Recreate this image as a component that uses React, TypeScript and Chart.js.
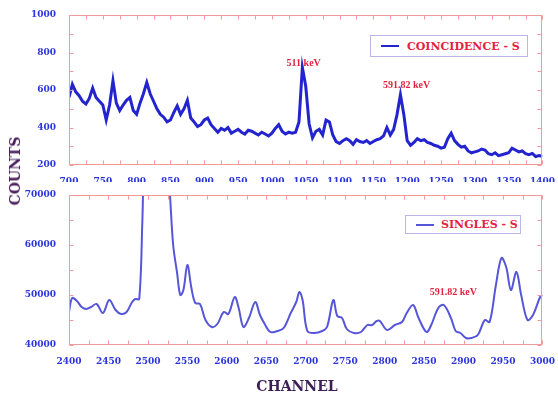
import React, { useEffect, useRef } from 'react';
import { Chart, registerables } from 'chart.js';

Chart.register(...registerables);

const SERIF = "'DejaVu Serif', 'Liberation Serif', serif";
const TIMES = "'Liberation Serif', serif";

// ---------- Top panel: COINCIDENCE - S ----------
const coincChannels = [
  700, 705, 710, 715, 720, 725, 730, 735, 740, 745, 750, 755, 760, 765, 770, 775, 780, 785, 790, 795,
  800, 805, 810, 815, 820, 825, 830, 835, 840, 845, 850, 855, 860, 865, 870, 875, 880, 885, 890, 895,
  900, 905, 910, 915, 920, 925, 930, 935, 940, 945, 950, 955, 960, 965, 970, 975, 980, 985, 990, 995,
  1000, 1005, 1010, 1015, 1020, 1025, 1030, 1035, 1040, 1045, 1050, 1055, 1060, 1065, 1070, 1075, 1080, 1085, 1090, 1095,
  1100, 1105, 1110, 1115, 1120, 1125, 1130, 1135, 1140, 1145, 1150, 1155, 1160, 1165, 1170, 1175, 1180, 1185, 1190, 1195,
  1200, 1205, 1210, 1215, 1220, 1225, 1230, 1235, 1240, 1245, 1250, 1255, 1260, 1265, 1270, 1275, 1280, 1285, 1290, 1295,
  1300, 1305, 1310, 1315, 1320, 1325, 1330, 1335, 1340, 1345, 1350, 1355, 1360, 1365, 1370, 1375, 1380, 1385, 1390, 1395,
  1400,
];
const coincCounts = [
  560, 630, 590, 570, 540, 525, 555, 610, 560, 540, 520, 440, 520, 650, 530, 490, 520, 545, 560, 490,
  470, 530, 580, 640, 580, 540, 500, 470, 455, 430, 440, 480, 515, 470, 500, 545, 450, 430, 405, 415,
  440, 450, 415, 395, 375, 395, 385, 400, 370, 380, 390, 375, 365, 385, 380, 370, 360, 375, 365, 355,
  370, 395, 415, 380, 365, 375, 370, 375, 430, 720, 620, 420, 345, 380, 390, 360, 440, 430, 360, 325,
  315, 330, 340, 330, 310, 335, 325, 320, 330, 315, 325, 335, 340, 355, 400, 360, 390, 470, 575, 470,
  330, 305, 320, 340, 330, 335, 320, 315, 305, 300, 290, 295, 340, 370, 330, 310, 295, 300, 275, 265,
  270, 275, 285, 280, 260, 255, 265, 250, 255, 260, 265, 290, 280, 270, 275, 260, 255, 262, 245, 250,
  245,
];
const coincXTicks = { min: 700, max: 1400, step: 25, labelEvery: 50 };
const coincYTicks = { min: 200, max: 1000, step: 100, labelEvery: 200 };
const coincNotes = [
  { text: '511 keV', channel: 1047, count: 744 },
  { text: '591.82 keV', channel: 1199, count: 627 },
];

// ---------- Bottom panel: SINGLES - S ----------
const singlesChannels = [
  2400, 2404, 2410, 2416, 2422, 2428, 2435, 2443, 2451, 2459, 2466, 2473, 2480, 2484, 2489, 2493, 2497, 2510, 2522, 2528,
  2532, 2537, 2541, 2545, 2550, 2555, 2560, 2566, 2573, 2581, 2588, 2596, 2602, 2610, 2615, 2621, 2628, 2636, 2642, 2648,
  2655, 2664, 2672, 2681, 2688, 2692, 2696, 2702, 2711, 2721, 2727, 2735, 2740, 2746, 2752, 2761, 2770, 2778, 2784, 2790,
  2794, 2803, 2813, 2822, 2828, 2836, 2843, 2853, 2859, 2868, 2875, 2884, 2890, 2896, 2903, 2910, 2918, 2927, 2933, 2941,
  2948, 2954, 2960, 2967, 2973, 2981, 2988, 2997, 3000,
];
const singlesCounts = [
  46600, 49400, 48800, 47600, 47200, 47600, 48200, 46400, 49000, 47000, 46200, 46600, 48600, 49200, 49200, 65000, 85000, 95000, 85000, 70000,
  60000, 54400, 50000, 51000, 56000, 51500, 48400, 48200, 45000, 43600, 44200, 46600, 46200, 49600, 47400, 43600, 45400, 48600, 46000, 44200,
  42600, 42800, 43400, 46400, 48600, 50600, 49000, 42800, 42400, 42800, 43600, 49000, 45800, 45400, 43200, 42400, 42600, 44000, 44000, 44800,
  44800, 43000, 44000, 44600, 46400, 48000, 45400, 42600, 44000, 47400, 48000, 45400, 42800, 42400, 41400, 41400, 42000, 45000, 44600, 52000,
  57400, 55600, 51000, 54600, 50000, 45000, 46000, 49600, 50000,
];
const singlesXTicks = { min: 2400, max: 3000, step: 25, labelEvery: 50 };
const singlesYTicks = { min: 40000, max: 70000, step: 5000, labelEvery: 10000 };
const singlesNotes = [{ text: '591.82 keV', channel: 2887, count: 50600 }];

const TICK_COLOR = '#2b35dc';
const FRAME_COLOR = '#f29a9a';
const NOTE_COLOR = '#e3233f';

const framePlugin = {
  id: 'frameTicks',
  afterDatasetsDraw(chart: any, _args: any, opts: any) {
    const { ctx, chartArea: a, scales } = chart;
    ctx.save();
    ctx.strokeStyle = FRAME_COLOR;
    ctx.lineWidth = 1;
    const L = Math.round(a.left) + 0.5;
    const R = Math.round(a.right) - 0.5;
    const T = Math.round(a.top) + 0.5;
    const B = Math.round(a.bottom) - 0.5;
    ctx.strokeRect(L, T, R - L, B - T);
    ctx.beginPath();
    for (const t of scales.x.ticks) {
      const px = Math.round(scales.x.getPixelForValue(t.value)) + 0.5;
      ctx.moveTo(px, B);
      ctx.lineTo(px, B - 4);
      ctx.moveTo(px, T);
      ctx.lineTo(px, T + 4);
    }
    for (const t of scales.y.ticks) {
      const py = Math.round(scales.y.getPixelForValue(t.value)) + 0.5;
      ctx.moveTo(L, py);
      ctx.lineTo(L + 4, py);
      ctx.moveTo(R, py);
      ctx.lineTo(R - 4, py);
    }
    ctx.stroke();
    const notes = (opts && opts.items) || [];
    ctx.fillStyle = NOTE_COLOR;
    ctx.font = `bold 10px ${TIMES}`;
    ctx.textAlign = 'center';
    ctx.textBaseline = 'middle';
    for (const n of notes) {
      ctx.fillText(n.text, scales.x.getPixelForValue(n.channel), scales.y.getPixelForValue(n.count));
    }
    ctx.restore();
  },
};

function makeChart(
  canvas: HTMLCanvasElement,
  channels: number[],
  counts: number[],
  xt: { min: number; max: number; step: number; labelEvery: number },
  yt: { min: number; max: number; step: number; labelEvery: number },
  notes: { text: string; channel: number; count: number }[],
  color: string,
  width: number,
  tension: number,
  xHeight: number,
) {
  const tickFont = { family: SERIF, size: 9, weight: 'bold' as const };
  return new Chart(canvas, {
    type: 'line',
    data: {
      datasets: [
        {
          data: channels.map((c, i) => ({ x: c, y: counts[i] })),
          borderColor: color,
          borderWidth: width,
          pointRadius: 0,
          tension,
          fill: false,
        },
      ],
    },
    plugins: [framePlugin],
    options: {
      responsive: false,
      animation: false,
      events: [],
      layout: { padding: { left: 0, right: 11, top: 15, bottom: 0 } },
      plugins: {
        legend: { display: false },
        tooltip: { enabled: false },
        frameTicks: { items: notes },
      } as any,
      scales: {
        x: {
          type: 'linear',
          min: xt.min,
          max: xt.max,
          grid: { display: false },
          border: { display: false },
          afterFit: (s: any) => {
            s.height = xHeight;
          },
          ticks: {
            stepSize: xt.step,
            autoSkip: false,
            maxRotation: 0,
            padding: 3,
            color: TICK_COLOR,
            font: tickFont,
            callback: (v: any) => (Math.round(Number(v)) % xt.labelEvery === 0 ? String(Math.round(Number(v))) : ''),
          },
        },
        y: {
          type: 'linear',
          min: yt.min,
          max: yt.max,
          grid: { display: false },
          border: { display: false },
          afterFit: (s: any) => {
            s.width = 69;
          },
          ticks: {
            stepSize: yt.step,
            autoSkip: false,
            padding: 5,
            color: TICK_COLOR,
            font: tickFont,
            callback: (v: any) => (Math.round(Number(v)) % yt.labelEvery === 0 ? String(Math.round(Number(v))) : ''),
          },
        },
      },
    } as any,
  });
}

const legendBox: React.CSSProperties = {
  position: 'absolute',
  border: '1px solid #b9b6e6',
  background: '#fff',
  boxSizing: 'border-box',
  display: 'flex',
  alignItems: 'center',
};

export default function App() {
  const topRef = useRef<HTMLCanvasElement>(null);
  const botRef = useRef<HTMLCanvasElement>(null);

  useEffect(() => {
    const c1 = makeChart(topRef.current!, coincChannels, coincCounts, coincXTicks, coincYTicks, coincNotes, '#2424cf', 3, 0, 17);
    const c2 = makeChart(botRef.current!, singlesChannels, singlesCounts, singlesXTicks, singlesYTicks, singlesNotes, '#5656d8', 2, 0.35, 51);
    return () => {
      c1.destroy();
      c2.destroy();
    };
  }, []);

  return (
    <div style={{ position: 'absolute', left: 0, top: 0, width: 558, height: 396, background: '#fff', overflow: 'hidden' }}>
      <canvas ref={topRef} width={558} height={182} style={{ position: 'absolute', left: 0, top: 0, width: 558, height: 182 }} />
      <canvas ref={botRef} width={558} height={216} style={{ position: 'absolute', left: 0, top: 180, width: 558, height: 216 }} />

      <div style={{ ...legendBox, left: 370, top: 35, width: 158, height: 22 }}>
        <div style={{ marginLeft: 10, width: 18, height: 2, background: '#2424cf' }} />
        <span style={{ marginLeft: 8, fontFamily: SERIF, fontWeight: 'bold', fontSize: 11, color: NOTE_COLOR, whiteSpace: 'nowrap' }}>
          COINCIDENCE - S
        </span>
      </div>

      <div style={{ ...legendBox, left: 405, top: 215, width: 116, height: 19 }}>
        <div style={{ marginLeft: 10, width: 18, height: 2, background: '#5656d8' }} />
        <span style={{ marginLeft: 7, fontFamily: SERIF, fontWeight: 'bold', fontSize: 11, color: NOTE_COLOR, whiteSpace: 'nowrap' }}>
          SINGLES - S
        </span>
      </div>

      <div
        style={{
          position: 'absolute',
          left: 15,
          top: 171,
          transform: 'translate(-50%, -50%) rotate(-90deg)',
          fontFamily: SERIF,
          fontWeight: 'bold',
          fontSize: 14,
          color: '#4a1f5c',
          whiteSpace: 'nowrap',
          lineHeight: 1,
        }}
      >
        COUNTS
      </div>
      <div
        style={{
          position: 'absolute',
          left: 297,
          top: 386,
          transform: 'translate(-50%, -50%)',
          fontFamily: SERIF,
          fontWeight: 'bold',
          fontSize: 14,
          color: '#3d1f55',
          whiteSpace: 'nowrap',
          lineHeight: 1,
        }}
      >
        CHANNEL
      </div>
    </div>
  );
}
